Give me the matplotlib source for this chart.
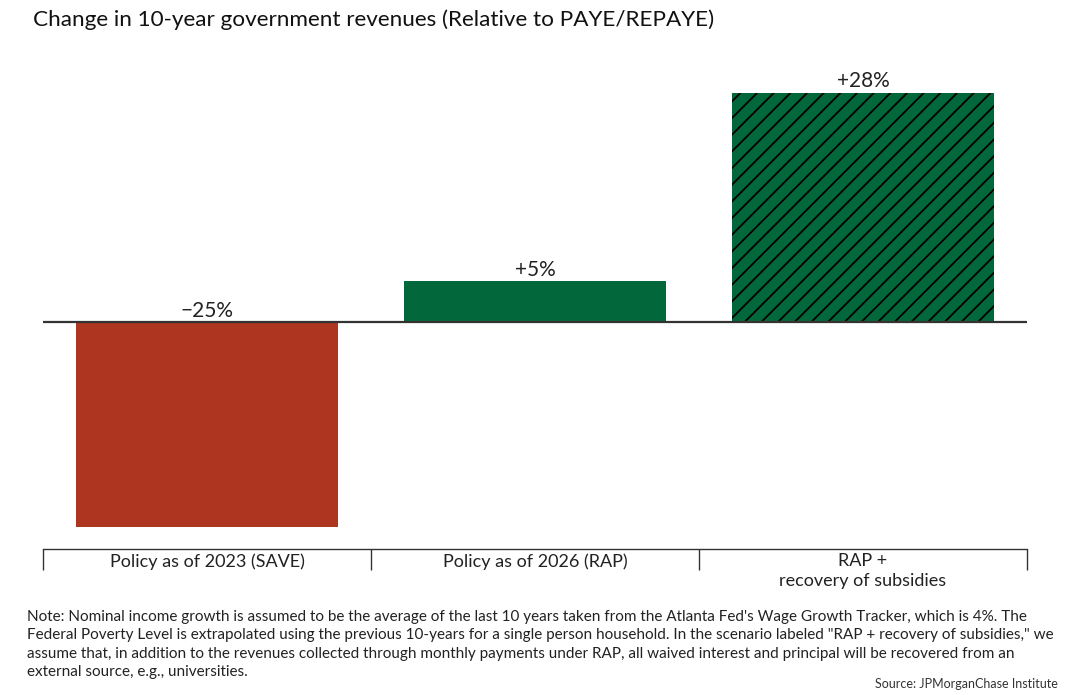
import matplotlib
matplotlib.use("Agg")
import matplotlib.pyplot as plt

# Data
categories = [
    "Policy as of 2023 (SAVE)",
    "Policy as of 2026 (RAP)",
    "RAP +\nrecovery of subsidies",
]
values = [-25, 5, 28]
value_labels = ["\u221225%", "+5%", "+28%"]

title = "Change in 10-year government revenues (Relative to PAYE/REPAYE)"
note = (
    "Note: Nominal income growth is assumed to be the average of the last 10 years taken from the "
    "Atlanta Fed's Wage Growth Tracker, which is 4%. The\n"
    "Federal Poverty Level is extrapolated using the previous 10-years for a single person household. "
    "In the scenario labeled \"RAP + recovery of subsidies,\" we\n"
    "assume that, in addition to the revenues collected through monthly payments under RAP, "
    "all waived interest and principal will be recovered from an\n"
    "external source, e.g., universities."
)
source = "Source: JPMorganChase Institute"

plt.rcParams["font.family"] = ["Lato", "DejaVu Sans"]
plt.rcParams["hatch.linewidth"] = 1.3
plt.rcParams["hatch.color"] = "black"

RED = "#AE3520"
GREEN = "#02673A"

fig = plt.figure(figsize=(10.7, 6.95), dpi=100)
ax = fig.add_axes([43 / 1070, 1 - 549 / 695, 984 / 1070, (549 - 60) / 695])

x = list(range(len(categories)))
colors = [RED, GREEN, GREEN]
hatches = [None, None, "//"]

for xi, v, c, h in zip(x, values, colors, hatches):
    ax.bar(xi, v, width=0.8, color=c, hatch=h, edgecolor="black" if h else c,
           linewidth=0)

# value labels sit above the bar top (or above zero for negatives)
for xi, v, lab in zip(x, values, value_labels):
    ypos = max(v, 0)
    ax.annotate(lab, (xi, ypos), xytext=(0, 1), textcoords="offset points",
                ha="center", va="bottom", fontsize=15, color="#222222")

ax.axhline(0, color="#333333", linewidth=1.6, zorder=3)

ax.set_xlim(-0.5, 2.5)
ax.set_ylim(-27.7, 32)

for s in ["top", "right", "left"]:
    ax.spines[s].set_visible(False)
ax.spines["bottom"].set_color("#333333")
ax.spines["bottom"].set_linewidth(1.0)

ax.set_yticks([])
ax.set_xticks([-0.5, 0.5, 1.5, 2.5])
ax.set_xticklabels([])
ax.tick_params(axis="x", which="major", length=15, width=1.0, color="#333333",
               direction="out")
ax.set_xticks(x, minor=True)
ax.set_xticklabels(categories, minor=True, fontsize=13, color="#222222",
                   linespacing=1.3)
ax.tick_params(axis="x", which="minor", length=0, pad=3)

fig.text(33 / 1070, 1 - 20 / 695, title, fontsize=16.2, va="center", ha="left",
         color="#111111")
fig.text(27 / 1070, 1 - 610 / 695, note, fontsize=11, va="top", ha="left",
         color="#222222", linespacing=1.4)
fig.text(1058 / 1070, 1 - 684 / 695, source, fontsize=9, va="center",
         ha="right", color="#333333")

fig.savefig("out.png", dpi=100)
